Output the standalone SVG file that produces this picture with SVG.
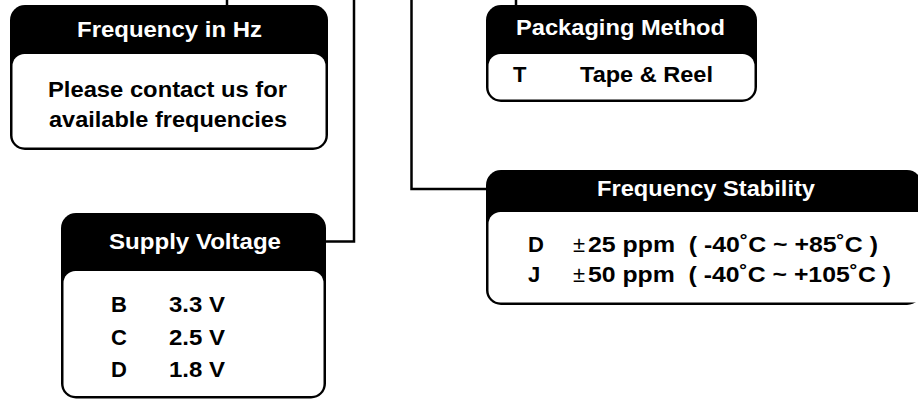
<svg xmlns="http://www.w3.org/2000/svg" width="918" height="400" viewBox="0 0 918 400">
<style>
.outer{fill:#000}
.inner{fill:#fff}
.t{font-family:"Liberation Sans",Arial,sans-serif;font-weight:bold;font-size:22px}
.h{fill:#fff}
.b{fill:#000}
.pm{font-family:"Liberation Sans",Arial,sans-serif;font-weight:normal;font-size:22px;fill:#000}
.c{fill:none;stroke:#000;stroke-width:2.5}
</style>
<rect width="918" height="400" fill="#fff"/>
<g id="connectors">
<line class="c" x1="227" y1="0" x2="227" y2="6"/>
<polyline class="c" points="354,0 354,241.5 325,241.5"/>
<line class="c" x1="516" y1="0" x2="516" y2="6"/>
<polyline class="c" points="411.5,0 411.5,189 487,189"/>
</g>
<g id="freq-hz">
<rect class="outer" x="10" y="5" width="318" height="145" rx="15"/>
<rect class="inner" x="12.5" y="54" width="313" height="93.5" rx="12"/>
<text class="t h" x="77" y="37" textLength="185" lengthAdjust="spacingAndGlyphs">Frequency in Hz</text>
<text class="t b" x="48" y="97" textLength="239" lengthAdjust="spacingAndGlyphs">Please contact us for</text>
<text class="t b" x="49" y="127" textLength="238" lengthAdjust="spacingAndGlyphs">available frequencies</text>
</g>
<g id="supply-voltage">
<rect class="outer" x="61" y="213" width="265" height="185.5" rx="15"/>
<rect class="inner" x="63.5" y="271" width="260" height="125" rx="12"/>
<text class="t h" x="109" y="249" textLength="172" lengthAdjust="spacingAndGlyphs">Supply Voltage</text>
<text class="t b" x="111" y="312">B</text>
<text class="t b" x="169" y="312" textLength="56" lengthAdjust="spacingAndGlyphs">3.3 V</text>
<text class="t b" x="111" y="345">C</text>
<text class="t b" x="169" y="345" textLength="56" lengthAdjust="spacingAndGlyphs">2.5 V</text>
<text class="t b" x="111" y="377">D</text>
<text class="t b" x="169" y="377" textLength="56" lengthAdjust="spacingAndGlyphs">1.8 V</text>
</g>
<g id="packaging">
<rect class="outer" x="486" y="5" width="271" height="97" rx="15"/>
<rect class="inner" x="488.5" y="54" width="266" height="45.5" rx="12"/>
<text class="t h" x="516" y="35" textLength="209" lengthAdjust="spacingAndGlyphs">Packaging Method</text>
<text class="t b" x="513" y="82">T</text>
<text class="t b" x="580" y="82" textLength="133" lengthAdjust="spacingAndGlyphs">Tape &amp; Reel</text>
</g>
<g id="freq-stability">
<rect class="outer" x="486" y="170" width="436" height="135" rx="15"/>
<rect class="inner" x="488.5" y="212" width="440" height="90.5" rx="12"/>
<text class="t h" x="597" y="196" textLength="218" lengthAdjust="spacingAndGlyphs">Frequency Stability</text>
<text class="t b" x="528" y="252">D</text>
<text class="pm" x="573" y="252">±</text>
<text class="t b" x="588" y="252" xml:space="preserve" textLength="290" lengthAdjust="spacingAndGlyphs">25 ppm  ( -40˚C ~ +85˚C )</text>
<text class="t b" x="528" y="282">J</text>
<text class="pm" x="573" y="282">±</text>
<text class="t b" x="588" y="282" xml:space="preserve" textLength="303" lengthAdjust="spacingAndGlyphs">50 ppm  ( -40˚C ~ +105˚C )</text>
</g>
</svg>
